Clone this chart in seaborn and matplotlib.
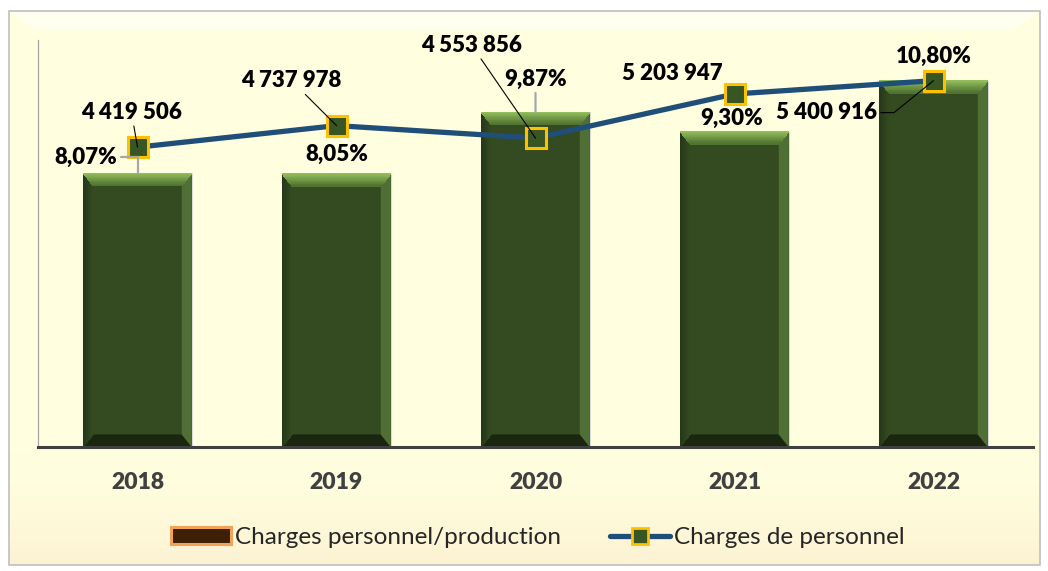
import numpy as np
import matplotlib.pyplot as plt
import seaborn as sns
from matplotlib.patches import Polygon, Rectangle, Patch
from matplotlib.lines import Line2D
from matplotlib.colors import to_rgb

# data
years = ['2018', '2019', '2020', '2021', '2022']
ratio_pct = [8.07, 8.05, 9.87, 9.30, 10.80]          # Charges personnel/production (%)
charges = [4419506, 4737978, 4553856, 5203947, 5400916]  # Charges de personnel

ratio_labels = [f"{v:.2f}".replace('.', ',') + '%' for v in ratio_pct]
charges_labels = [f"{v:,}".replace(',', ' ') for v in charges]

sns.set_style('white')
plt.rcParams['font.family'] = ['Lato', 'DejaVu Sans']

BAR = '#344A20'
LINE = '#1F4E79'

fig = plt.figure(figsize=(10.48, 5.71), dpi=100)
fig.patch.set_facecolor('white')

# background frame with a soft yellow gradient
bg = fig.add_axes([0, 0, 1, 1], zorder=-10)
bg.set_xlim(0, 1048)
bg.set_ylim(571, 0)
bg.axis('off')
t = np.linspace(0, 1, 200)[:, None]
top = np.array([1.0, 1.0, 0.875])
bot = np.array([0.99, 0.95, 0.83])
w = np.clip((t - 0.8) / 0.2, 0, 1) ** 1.5
grad = top * (1 - w[..., None]) + bot * w[..., None]
grad = np.repeat(grad, 2, axis=1)
bg.imshow(grad, extent=(9, 1040, 565, 11), aspect='auto', zorder=0)
bg.add_patch(Rectangle((9, 11), 1031, 554, fill=False, edgecolor='#BFBFBF', lw=1.2, zorder=1))
# light bevel strip along the top
bg.add_patch(Polygon([(10, 12), (1039, 12), (1012, 30), (37, 30)], closed=True,
                     facecolor='white', alpha=0.55, lw=0, zorder=1))

ax = fig.add_axes([38 / 1048, 1 - 447 / 571, (1033 - 38) / 1048, (447 - 40) / 571])
ax.patch.set_alpha(0)

sns.barplot(x=years, y=ratio_pct, ax=ax, color=BAR, saturation=1, width=0.545,
            edgecolor='#DADADA', linewidth=0.8, zorder=2)


def mix(c1, c2, f):
    a, b = np.array(to_rgb(c1)), np.array(to_rgb(c2))
    return a * (1 - f) + b * f


# bevel facets on each bar (top and left ones shaded in bands)
dx, dy = 0.05, 0.37
nb = 16
for p in list(ax.patches):
    x0, wd, h = p.get_x(), p.get_width(), p.get_height()
    x1 = x0 + wd
    ax.add_patch(Polygon([(x0, 0), (x1, 0), (x1 - dx, dy), (x0 + dx, dy)], closed=True,
                         facecolor='#1A2610', lw=0, zorder=2.5))
    ax.add_patch(Polygon([(x1, 0), (x1 - dx, dy), (x1 - dx, h - dy), (x1, h)], closed=True,
                         facecolor='#4F6F34', lw=0, zorder=2.5))
    for k in range(nb):
        f0, f1 = k / nb, (k + 1) / nb
        # left facet: dark at the edge, fading into the face
        ax.add_patch(Polygon([(x0 + dx * f0, dy * f0), (x0 + dx * f1, dy * f1),
                              (x0 + dx * f1, h - dy * f1), (x0 + dx * f0, h - dy * f0)],
                             closed=True, facecolor=mix('#26371A', BAR, f0), lw=0, zorder=2.5,
                             antialiased=False))
    for k in range(nb):
        f0, f1 = k / nb, (k + 1) / nb
        ax.add_patch(Polygon([(x0 + dx * f0, h - dy * f0), (x1 - dx * f0, h - dy * f0),
                              (x1 - dx * f1, h - dy * f1), (x0 + dx * f1, h - dy * f1)],
                             closed=True, facecolor=mix('#93BE5C', '#4B6E2E', f0), lw=0, zorder=2.6,
                             antialiased=False))

ax.set_ylim(0, 12)
ax.set_xlim(-0.5, 4.5)
ax.set_xlabel('')
ax.set_ylabel('')
ax.set_yticks([])
for s in ['top', 'right']:
    ax.spines[s].set_visible(False)
ax.spines['left'].set_color('#A6A6A6')
ax.spines['left'].set_linewidth(0.9)
ax.spines['bottom'].set_color('#404040')
ax.spines['bottom'].set_linewidth(2.2)
ax.spines['bottom'].set_zorder(3)
ax.tick_params(axis='x', length=0, pad=18, labelsize=16.5, labelcolor='#404040')
for lbl in ax.get_xticklabels():
    lbl.set_fontweight('heavy')

# line on a secondary axis
ax2 = ax.twinx()
sns.lineplot(x=years, y=charges, ax=ax2, color=LINE, lw=3.8, sort=False,
             marker='s', markersize=15, markerfacecolor='#375623',
             markeredgecolor='#FFC000', markeredgewidth=2.2, zorder=4)
ax2.set_ylim(0, 6000000)
ax2.set_yticks([])
ax2.set_ylabel('')
for s in ax2.spines.values():
    s.set_visible(False)

lab = dict(fontsize=16, fontweight='heavy', color='black', textcoords='offset pixels')
black = dict(arrowstyle='-', color='black', lw=0.8, shrinkA=0, shrinkB=0)
gray = dict(arrowstyle='-', color='#A6A6A6', lw=1.6, shrinkA=0, shrinkB=0)

# labels for the line
line_off = [(-6, 35), (-45, 45), (-64, 93), (-62, 20), (-56, -32)]
for i, (txt, off) in enumerate(zip(charges_labels, line_off)):
    kw = dict(ha='center', va='center')
    arrow = dict(black)
    if i == 4:
        kw['ha'] = 'right'
        arrow['connectionstyle'] = 'angle,angleA=0,angleB=39,rad=0'
        arrow['relpos'] = (1, 0.5)
    if i == 3:
        arrow = None
    ax2.annotate(txt, xy=(i, charges[i]), xytext=off, arrowprops=arrow, zorder=6, **kw, **lab)

# labels for the bars
bar_off = [(-20, 16), (0, 20), (0, 33), (-3, 13), (0, 24)]
for i, (txt, off) in enumerate(zip(ratio_labels, bar_off)):
    kw = dict(ha='center', va='center')
    arrow = None
    if i == 0:
        kw['ha'] = 'right'
        arrow = dict(gray, connectionstyle='angle,angleA=0,angleB=90,rad=0', relpos=(1, 0.5))
    if i == 2:
        arrow = dict(gray)
    ax2.annotate(txt, xy=(i, ratio_pct[i] * 500000), xytext=off, arrowprops=arrow,
                 zorder=5, **kw, **lab)

handles = [
    Patch(facecolor='#3F2006', edgecolor='#F2A35A', linewidth=2.2, label='Charges personnel/production'),
    Line2D([0], [0], color=LINE, lw=3.8, marker='s', markersize=11, markerfacecolor='#375623',
           markeredgecolor='#FFC000', markeredgewidth=2, label='Charges de personnel'),
]
fig.legend(handles=handles, loc='center', bbox_to_anchor=(0.513, 0.058), ncol=2, frameon=False,
           fontsize=17.5, handlelength=2.5, handleheight=0.7, handletextpad=0.15, columnspacing=2.0)

fig.savefig('out.png', dpi=100, facecolor=fig.get_facecolor())
